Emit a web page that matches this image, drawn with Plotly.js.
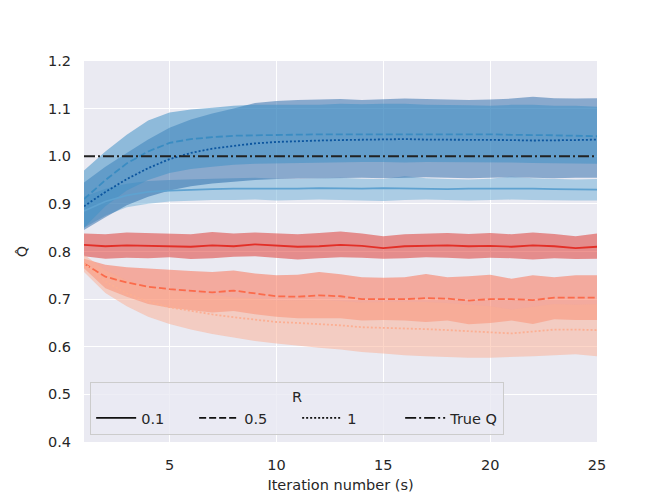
<!DOCTYPE html>
<html>
<head>
<meta charset="utf-8">
<script src="https://cdn.plot.ly/plotly-3.0.1.min.js"></script>
<style>
  html, body { margin: 0; padding: 0; background: #fff; }
  #plot { width: 664px; height: 499px; }
</style>
</head>
<body>
<div id="plot"></div>
<script>
// iteration number
var iters = [1,2,3,4,5,6,7,8,9,10,11,12,13,14,15,16,17,18,19,20,21,22,23,24,25];

// blue group, R = 0.1 / 0.5 / 1 (mean and band edges)
var blueR01 = [0.885,0.905,0.918,0.925,0.928,0.930,0.931,0.932,0.932,0.931,0.932,0.933,0.932,0.932,0.933,0.932,0.932,0.931,0.932,0.932,0.933,0.932,0.931,0.931,0.930];
var blueR01Lo = [0.850,0.875,0.893,0.900,0.905,0.907,0.908,0.908,0.909,0.907,0.908,0.909,0.908,0.907,0.906,0.908,0.909,0.908,0.907,0.908,0.909,0.908,0.907,0.907,0.907];
var blueR01Hi = [0.915,0.932,0.942,0.948,0.950,0.952,0.953,0.954,0.955,0.953,0.952,0.954,0.955,0.953,0.952,0.958,0.954,0.952,0.951,0.953,0.957,0.954,0.952,0.951,0.952];

var blueR05 = [0.910,0.950,0.985,1.010,1.028,1.036,1.040,1.043,1.044,1.045,1.045,1.046,1.046,1.046,1.046,1.046,1.046,1.047,1.046,1.046,1.045,1.045,1.044,1.043,1.042];
var blueR05Lo = [0.850,0.895,0.928,0.950,0.965,0.973,0.978,0.982,0.984,0.985,0.986,0.987,0.987,0.988,0.988,0.987,0.988,0.988,0.987,0.988,0.987,0.986,0.985,0.984,0.984];
var blueR05Hi = [0.970,1.010,1.045,1.075,1.092,1.098,1.102,1.106,1.108,1.108,1.109,1.108,1.110,1.109,1.110,1.110,1.108,1.108,1.107,1.106,1.108,1.108,1.106,1.106,1.104];

var blueR1 = [0.895,0.925,0.952,0.975,0.994,1.007,1.016,1.022,1.027,1.030,1.032,1.033,1.034,1.035,1.035,1.036,1.035,1.035,1.034,1.035,1.034,1.033,1.033,1.034,1.035];
var blueR1Lo = [0.845,0.872,0.897,0.915,0.928,0.937,0.943,0.947,0.950,0.952,0.953,0.954,0.955,0.955,0.954,0.955,0.956,0.955,0.954,0.955,0.956,0.955,0.954,0.955,0.955];
var blueR1Hi = [0.945,0.978,1.007,1.035,1.060,1.077,1.090,1.100,1.112,1.116,1.118,1.119,1.120,1.118,1.120,1.121,1.120,1.119,1.118,1.119,1.121,1.125,1.122,1.121,1.122];

// red group, R = 0.1 / 0.5 / 1
var redR01 = [0.814,0.811,0.813,0.812,0.812,0.810,0.813,0.811,0.815,0.812,0.810,0.811,0.814,0.812,0.807,0.811,0.812,0.813,0.811,0.812,0.810,0.813,0.811,0.807,0.810];
var redR01Lo = [0.790,0.785,0.787,0.786,0.788,0.784,0.786,0.789,0.790,0.787,0.783,0.786,0.788,0.787,0.785,0.786,0.788,0.787,0.785,0.787,0.786,0.783,0.786,0.784,0.785];
var redR01Hi = [0.838,0.836,0.840,0.839,0.837,0.836,0.841,0.838,0.840,0.838,0.836,0.839,0.842,0.838,0.832,0.836,0.837,0.839,0.837,0.839,0.836,0.840,0.837,0.832,0.838];

var redR05 = [0.775,0.747,0.735,0.726,0.721,0.718,0.714,0.718,0.712,0.706,0.705,0.708,0.706,0.700,0.700,0.700,0.702,0.701,0.697,0.700,0.700,0.698,0.703,0.703,0.703];
var redR05Lo = [0.765,0.723,0.705,0.690,0.682,0.677,0.672,0.675,0.668,0.663,0.660,0.660,0.660,0.655,0.656,0.655,0.652,0.655,0.647,0.650,0.655,0.648,0.658,0.656,0.656];
var redR05Hi = [0.785,0.772,0.767,0.764,0.761,0.759,0.757,0.760,0.754,0.750,0.751,0.757,0.752,0.746,0.745,0.746,0.753,0.746,0.748,0.751,0.743,0.750,0.746,0.750,0.750];

var redR1 = [0.775,0.737,0.712,0.695,0.683,0.675,0.668,0.662,0.657,0.652,0.650,0.648,0.645,0.641,0.640,0.638,0.637,0.635,0.633,0.631,0.628,0.632,0.636,0.636,0.635];
var redR1Lo = [0.757,0.713,0.685,0.663,0.648,0.636,0.627,0.620,0.612,0.607,0.602,0.598,0.594,0.589,0.586,0.582,0.580,0.578,0.577,0.577,0.578,0.580,0.582,0.584,0.580];
var redR1Hi = [0.793,0.761,0.739,0.727,0.718,0.714,0.709,0.704,0.702,0.697,0.698,0.698,0.696,0.693,0.694,0.694,0.694,0.692,0.689,0.685,0.678,0.684,0.690,0.688,0.690];

var trueQ = 1.0;
var rLabels = ["0.1", "0.5", "1"];

var traces = [];

function band(lo, hi, fill) {
  traces.push({x: iters, y: lo, type: "scatter", mode: "lines",
    line: {width: 0}, showlegend: false, hoverinfo: "skip"});
  traces.push({x: iters, y: hi, type: "scatter", mode: "lines",
    line: {width: 0}, fill: "tonexty", fillcolor: fill,
    showlegend: false, hoverinfo: "skip"});
}

function meanLine(y, color, dash) {
  traces.push({x: iters, y: y, type: "scatter", mode: "lines",
    line: {color: color, width: 1.8, dash: dash}, showlegend: false});
}

var SOLID = "solid", DASH = "7px,3px", DOT = "2px,2px", DASHDOT = "11px,3px,2px,3px";

// bands
band(redR01Lo, redR01Hi, "rgba(222,45,38,0.5)");
band(redR05Lo, redR05Hi, "rgba(251,106,74,0.5)");
band(redR1Lo, redR1Hi, "rgba(252,174,145,0.5)");
band(blueR01Lo, blueR01Hi, "rgba(107,174,214,0.5)");
band(blueR1Lo, blueR1Hi, "rgba(20,90,160,0.45)");
band(blueR05Lo, blueR05Hi, "rgba(66,146,198,0.55)");

// means
meanLine(redR01, "#e32f27", SOLID);
meanLine(redR05, "#fb6b4b", DASH);
meanLine(redR1, "#fcaf93", DOT);
meanLine(blueR01, "#5fa2d0", SOLID);
meanLine(blueR05, "#3a8cc2", DASH);
meanLine(blueR1, "#0b559f", DOT);

// true Q
traces.push({x: [iters[0], iters[iters.length - 1]], y: [trueQ, trueQ],
  type: "scatter", mode: "lines", line: {color: "#222222", width: 2.2, dash: DASHDOT},
  showlegend: false});

// legend entries (black)
var legDash = [SOLID, DASH, DOT];
rLabels.forEach(function (lab, i) {
  traces.push({x: [null], y: [null], type: "scatter", mode: "lines", name: lab,
    line: {color: "#111111", width: 1.8, dash: legDash[i]}});
});
traces.push({x: [null], y: [null], type: "scatter", mode: "lines", name: "True Q",
  line: {color: "#111111", width: 1.8, dash: DASHDOT}});

var layout = {
  width: 664,
  height: 499,
  margin: {l: 84, r: 67, t: 61, b: 57},
  paper_bgcolor: "#ffffff",
  plot_bgcolor: "#EAEAF2",
  font: {family: "DejaVu Sans", size: 14.5, color: "#262626"},
  xaxis: {
    range: [1, 25],
    tickvals: [5, 10, 15, 20, 25],
    showgrid: true, gridcolor: "#ffffff", gridwidth: 1.2,
    zeroline: false, showline: false, ticks: "",
    ticklabelstandoff: 12,
    title: {text: "Iteration number (s)", font: {size: 14.5}, standoff: 8}
  },
  yaxis: {
    range: [0.4, 1.2],
    tickvals: [0.4, 0.5, 0.6, 0.7, 0.8, 0.9, 1.0, 1.1, 1.2],
    tickformat: ".1f",
    showgrid: true, gridcolor: "#ffffff", gridwidth: 1.2,
    zeroline: false, showline: false, ticks: "",
    ticklabelstandoff: 12,
    title: {text: "Q\u0302", font: {size: 14.5}, standoff: 16}
  },
  legend: {
    orientation: "h",
    traceorder: "normal",
    x: 0.012, xanchor: "left",
    y: 0.018, yanchor: "bottom",
    bgcolor: "rgba(234,234,242,0.8)",
    bordercolor: "#cccccc", borderwidth: 1,
    font: {size: 14.5},
    itemwidth: 40,
    entrywidth: 48,
    title: {text: "R", side: "top center", font: {size: 14.5}}
  },
  showlegend: true
};

Plotly.newPlot("plot", traces, layout, {displayModeBar: false, staticPlot: true});
</script>
</body>
</html>
